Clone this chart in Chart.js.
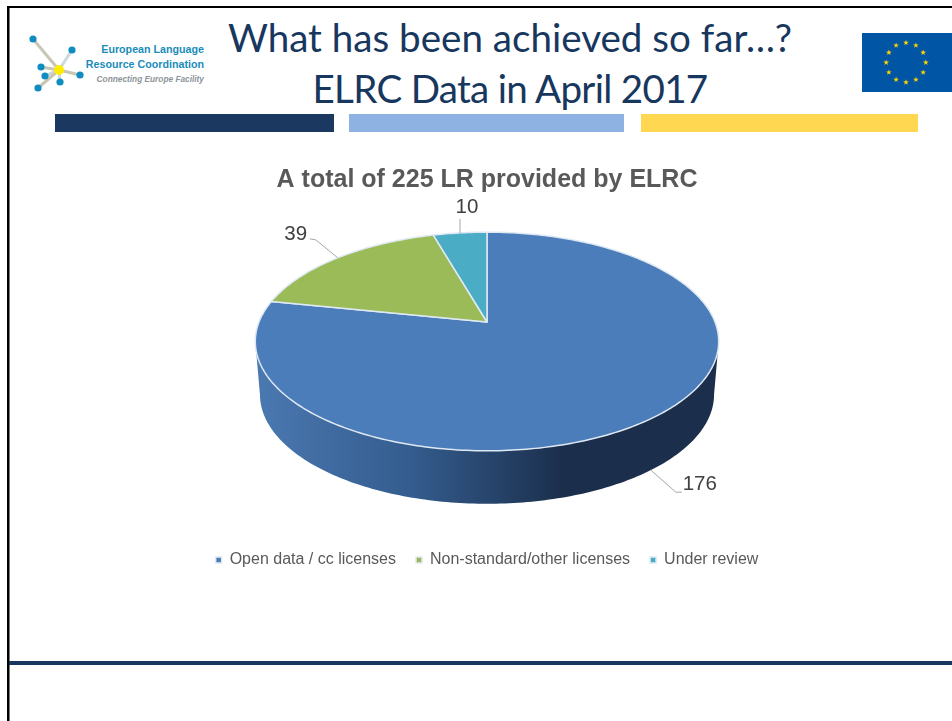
<!DOCTYPE html>
<html>
<head>
<meta charset="utf-8">
<title>ELRC Data in April 2017</title>
<script src="https://cdn.jsdelivr.net/npm/chart.js@4/dist/chart.umd.js"></script>
<style>
    html, body { margin: 0; padding: 0; background: #fff; overflow: hidden; }
    #slide { position: relative; width: 952px; height: 721px; overflow: hidden; }
    #slide div, #slide svg, #slide canvas { position: absolute; }
    .head { left: 69px; width: 882px; text-align: center; font: 38.6px/46px Lato, sans-serif; color: #17375e; white-space: nowrap; }
    .logo { right: 748px; text-align: right; font-family: "Liberation Sans", sans-serif; font-weight: bold; white-space: nowrap; }
</style>
</head>
<body>
<div id="slide">
    <div style="left:8px;top:6px;width:944px;height:2px;background:#000"></div>
    <div style="left:7px;top:6px;width:2px;height:715px;background:#000"></div>
    <div style="left:9px;top:8px;width:1px;height:713px;background:#777"></div>
    <div style="left:9px;top:661px;width:943px;height:4px;background:#17375e"></div>

    <svg id="logo" style="left:20px;top:30px" width="80" height="70"></svg>
    <div class="logo" style="top:43px;font-size:10.7px;color:#1a8cba">European Language</div>
    <div class="logo" style="top:58px;font-size:10.7px;color:#1a8cba">Resource Coordination</div>
    <div class="logo" style="top:74px;font-size:8.3px;color:#8d949a;font-style:italic">Connecting Europe Facility</div>

    <div class="head" style="top:14px">What has been achieved so far…?</div>
    <div class="head" style="top:65px;letter-spacing:-0.7px">ELRC Data in April 2017</div>

    <svg id="flag" style="left:862px;top:33px" width="90" height="59"></svg>

    <div style="left:55px;top:114px;width:279px;height:18px;background:#1a3860"></div>
    <div style="left:349px;top:114px;width:275px;height:18px;background:#8eb2e2"></div>
    <div style="left:641px;top:114px;width:277px;height:18px;background:#ffd750"></div>

    <canvas id="chart" width="930" height="428" style="left:22px;top:150px"></canvas>
</div>

<script>
// chart values
const categories = ["Open data / cc licenses", "Non-standard/other licenses", "Under review"];
const resources = [176, 39, 10];
const chartTitle = "A total of 225 LR provided by ELRC";

// look of the slices
const sliceColors = ["#4c7dbb", "#9bbb59", "#4bacc6"];
const wallStops = ["#4a78b0", "#345c8e", "#1b2f4c", "#1b2f4c"];

// the pie is a flat disc seen in perspective
const tilt = -0.178, squash = 0.4643, lift = 45.5;
const wallDepth = 53, wallNarrow = 0.98;
const leaders = [[[25, 22], [31, 22]], [[-22, -18], [-28, -19]], [[0, -14], [0, -14]]];
const labelOffsets = [[49, 14], [-42, -23], [7, -26]];

function project(arc, angle)
{
    let u = Math.cos(angle), v = Math.sin(angle);
    let w = 1 + tilt * v;
    return {
        x: arc.x + arc.outerRadius * u / w,
        y: arc.y - lift + arc.outerRadius * squash * v / w
    };
}

function outline(arc, start, end)
{
    let points = [];
    let steps = Math.max(2, Math.ceil((end - start) * 60));
    for(let i = 0; i <= steps; i++)
    {
        points.push(project(arc, start + (end - start) * i / steps));
    }
    return points;
}

// replaces the flat circle of the arc element
Chart.ArcElement.prototype.draw = function(ctx)
{
    let edge = Math.asin(-tilt);
    let wallStart = Math.max(this.startAngle, edge);
    let wallEnd = Math.min(this.endAngle, Math.PI - edge);

    ctx.save();
    if(wallEnd > wallStart)
    {
        let top = outline(this, wallStart, wallEnd);
        let gradient = ctx.createLinearGradient(this.x - this.outerRadius, 0, this.x + this.outerRadius, 0);
        wallStops.forEach(function(color, i)
        {
            gradient.addColorStop(i / (wallStops.length - 1), color);
        });
        ctx.beginPath();
        top.forEach(function(p, i)
        {
            if(i == 0) ctx.moveTo(p.x, p.y); else ctx.lineTo(p.x, p.y);
        });
        for(let i = top.length - 1; i >= 0; i--)
        {
            ctx.lineTo(this.x + (top[i].x - this.x) * wallNarrow, top[i].y + wallDepth);
        }
        ctx.closePath();
        ctx.fillStyle = gradient;
        ctx.fill();
    }

    ctx.beginPath();
    ctx.moveTo(this.x, this.y - lift);
    outline(this, this.startAngle, this.endAngle).forEach(function(p)
    {
        ctx.lineTo(p.x, p.y);
    });
    ctx.closePath();
    ctx.fillStyle = this.options.backgroundColor;
    ctx.fill();
    ctx.strokeStyle = this.options.borderColor;
    ctx.lineWidth = this.options.borderWidth;
    ctx.lineJoin = "round";
    ctx.stroke();
    ctx.restore();
};

const valueLabels = {
    id: "valueLabels",
    afterDatasetsDraw: function(chart)
    {
        let ctx = chart.ctx;
        let edge = Math.asin(-tilt);
        ctx.save();
        chart.getDatasetMeta(0).data.forEach(function(arc, i)
        {
            let mid = (arc.startAngle + arc.endAngle) / 2;
            let p = project(arc, mid);
            if(mid > edge && mid < Math.PI - edge)
            {
                p.x = arc.x + (p.x - arc.x) * wallNarrow;
                p.y += wallDepth;
            }
            ctx.beginPath();
            ctx.moveTo(p.x, p.y);
            leaders[i].forEach(function(d)
            {
                ctx.lineTo(p.x + d[0], p.y + d[1]);
            });
            ctx.strokeStyle = "#a6a6a6";
            ctx.lineWidth = 1;
            ctx.stroke();

            ctx.fillStyle = "#404040";
            ctx.font = '20.5px "Liberation Sans"';
            ctx.textAlign = "center";
            ctx.textBaseline = "middle";
            ctx.fillText(String(resources[i]), p.x + labelOffsets[i][0], p.y + labelOffsets[i][1]);
        });
        ctx.restore();
    }
};

// slide decoration
function buildDecor()
{
    const ns = "http://www.w3.org/2000/svg";
    function add(svg, name, attrs)
    {
        let node = document.createElementNS(ns, name);
        for(let key in attrs) node.setAttribute(key, attrs[key]);
        svg.appendChild(node);
    }

    let logo = document.getElementById("logo");
    let nodes = [[13, 9], [52, 20], [21, 37], [25, 46], [60, 45], [40, 52], [18, 58]];
    nodes.forEach(function(n, i)
    {
        add(logo, "line", { x1: 39, y1: 40, x2: n[0], y2: n[1], stroke: i % 2 ? "#c9d9de" : "#c8c6b4", "stroke-width": 3 });
    });
    nodes.forEach(function(n)
    {
        add(logo, "circle", { cx: n[0], cy: n[1], r: 3.6, fill: "#0f8dc0" });
    });
    add(logo, "circle", { cx: 39, cy: 40, r: 5, fill: "#ffee00" });

    let flag = document.getElementById("flag");
    add(flag, "rect", { x: 0, y: 0, width: 90, height: 59, fill: "#0055a4" });
    for(let s = 0; s < 12; s++)
    {
        let cx = 44 + 19.8 * Math.cos(s * Math.PI / 6);
        let cy = 29.5 + 19.8 * Math.sin(s * Math.PI / 6);
        let pts = [];
        for(let j = 0; j < 10; j++)
        {
            let r = j % 2 ? 1.2 : 3;
            let a = -Math.PI / 2 + j * Math.PI / 5;
            pts.push((cx + r * Math.cos(a)).toFixed(1) + "," + (cy + r * Math.sin(a)).toFixed(1));
        }
        add(flag, "polygon", { points: pts.join(" "), fill: "#ffd400" });
    }
}
buildDecor();

let display = new Chart(document.getElementById("chart").getContext("2d"),
{
    type: "pie",
    plugins: [valueLabels],
    data:
    {
        labels: categories,
        datasets: [
            {
                data: resources,
                backgroundColor: sliceColors,
                borderColor: "#dfe9f3",
                borderWidth: 1.5,
                radius: 228,
                clip: false
            }
        ]
    },
    options:
    {
        responsive: false,
        animation: false,
        events: [],
        plugins:
        {
            tooltip: { enabled: false },
            title:
            {
                display: true,
                text: chartTitle,
                color: "#595959",
                font: { family: '"Liberation Sans"', size: 25, weight: "bold" },
                padding: { top: 15, bottom: 8 }
            },
            legend:
            {
                position: "bottom",
                labels:
                {
                    usePointStyle: true,
                    pointStyle: "rect",
                    boxWidth: 6,
                    boxHeight: 6,
                    color: "#595959",
                    padding: 20,
                    font: { family: '"Liberation Sans"', size: 16 }
                }
            }
        }
    }
});
</script>
</body>
</html>
